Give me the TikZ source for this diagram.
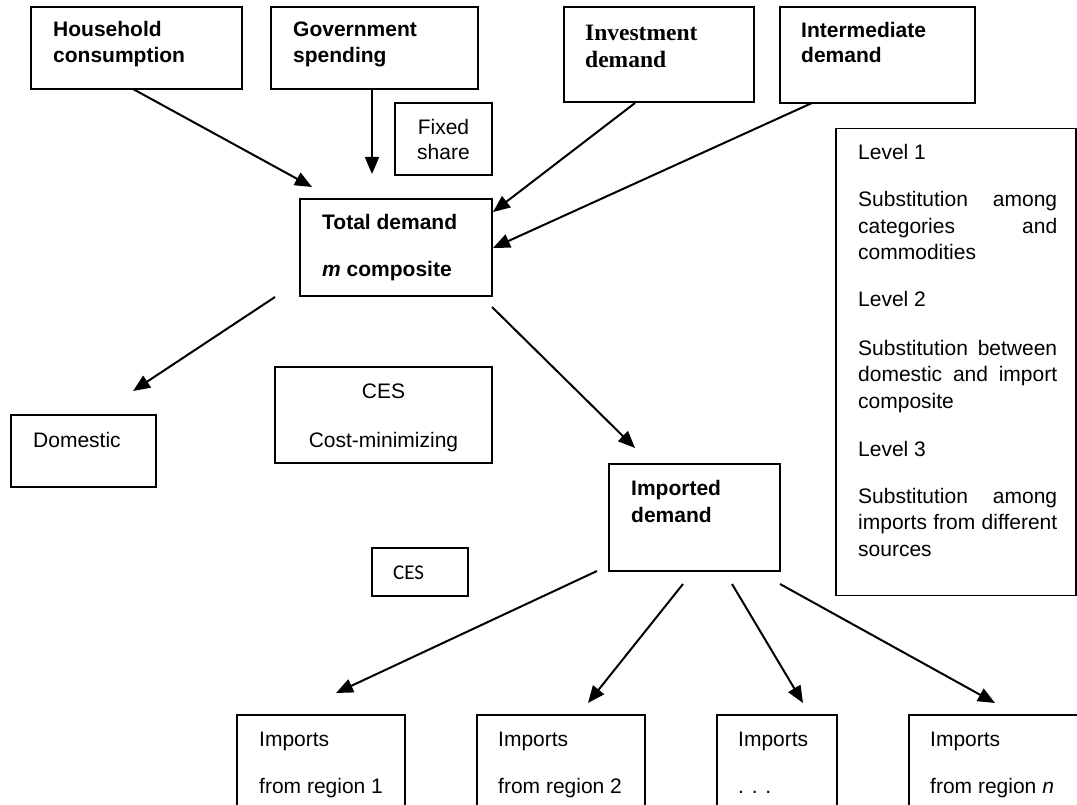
\documentclass[tikz,border=0pt]{standalone}
\usepackage{fontspec}
\setmainfont{Liberation Sans}
\newfontfamily\timesface{Liberation Serif}
\newfontfamily\calibriface{Carlito}
\usetikzlibrary{arrows.meta}

\begin{document}
\begin{tikzpicture}[x=1pt,y=-1pt,
  box/.style={draw, line width=1.6pt, inner sep=0pt, outer sep=0pt},
  lbl/.style={anchor=base west, inner sep=0pt, font=\fontsize{21}{25}\selectfont},
  blbl/.style={anchor=base west, inner sep=0pt, font=\fontsize{21}{25}\selectfont\bfseries},
  tlbl/.style={anchor=base west, inner sep=0pt, font=\fontsize{23.5}{27}\selectfont\timesface\bfseries},
  clbl/.style={anchor=base, inner sep=0pt, font=\fontsize{21}{25}\selectfont},
  flow/.style={line width=2pt, -{Triangle[length=17pt,width=14pt]}},
]
\useasboundingbox (0,0) rectangle (1077,805);
\clip (0,0) rectangle (1077,805);
\fill[white] (0,0) rectangle (1077,805);

% demand categories
\node[box, minimum width=211pt, minimum height=82pt] (hh)  at (136.5,48) {};
\node[box, minimum width=207pt, minimum height=82pt] (gov) at (374.5,48) {};
\node[box, minimum width=190pt, minimum height=95pt] (inv) at (659,54.5) {};
\node[box, minimum width=195pt, minimum height=96pt] (int) at (877.5,55) {};
\node[box, minimum width=97pt,  minimum height=72pt] (fix) at (443.5,139) {};

\node[blbl] (hh1) at (53,37) {Household};
\node[blbl] (hh2) at (53,63) {consumption};
\node[blbl] (gov1) at (293,37) {Government};
\node[blbl] (gov2) at (293,63) {spending};
\node[tlbl] (inv1) at (585,41) {Investment};
\node[tlbl] (inv2) at (585,68) {demand};
\node[blbl] (int1) at (801,38) {Intermediate};
\node[blbl] (int2) at (801,63) {demand};
\node[clbl] (fix1) at (443.5,135) {Fixed};
\node[clbl] (fix2) at (443.5,160) {share};

% total demand and level 2
\node[box, minimum width=192pt, minimum height=97pt] (td)   at (396,247.5) {};
\node[box, minimum width=145pt, minimum height=72pt] (dom)  at (83.5,451) {};
\node[box, minimum width=217pt, minimum height=96pt] (ces)  at (383.5,415) {};
\node[box, minimum width=171pt, minimum height=107pt] (impd) at (694.5,517.5) {};
\node[box, minimum width=96pt,  minimum height=48pt] (ces2) at (420,572) {};

\node[blbl] (td1) at (322,230) {Total demand};
\node[blbl] (td2) at (322,277) {\textit{m} composite};
\node[lbl] (dom1) at (33,447) {Domestic};
\node[clbl] (ces1a) at (383.5,398) {CES};
\node[clbl] (ces1b) at (383.5,447) {Cost-minimizing};
\node[blbl] (impd1) at (631,495) {Imported};
\node[blbl] (impd2) at (631,522) {demand};
\node[anchor=base west, inner sep=0pt, font=\fontsize{21}{25}\selectfont\calibriface] (ces2a) at (393,579) {CES};

% import sources
\node[box, minimum width=168pt, minimum height=100pt] (im1) at (321,765) {};
\node[box, minimum width=168pt, minimum height=100pt] (im2) at (561,765) {};
\node[box, minimum width=120pt, minimum height=100pt] (im3) at (777,765) {};
\node[box, minimum width=171pt, minimum height=100pt] (im4) at (994.5,765) {};

\node[lbl] (im1a) at (259,746) {Imports};
\node[lbl] (im1b) at (259,793) {from region 1};
\node[lbl] (im2a) at (498,746) {Imports};
\node[lbl] (im2b) at (498,793) {from region 2};
\node[lbl] (im3a) at (738,746) {Imports};
\node[lbl] (im3b) at (738,793) {. . .};
\node[lbl] (im4a) at (930,746) {Imports};
\node[lbl] (im4b) at (930,793) {from region \textit{n}};

% legend of nesting levels
\node[box, minimum width=240pt, minimum height=467pt] (lev) at (956,362) {};
\def\jline#1{\makebox[199pt][s]{#1}}
\node[lbl] (lv1)  at (858,160) {Level 1};
\node[lbl] (lv2)  at (858,207) {\jline{Substitution among}};
\node[lbl] (lv3)  at (858,233.5) {\jline{categories and}};
\node[lbl] (lv4)  at (858,260) {commodities};
\node[lbl] (lv5)  at (858,307) {Level 2};
\node[lbl] (lv6)  at (858,355) {\jline{Substitution between}};
\node[lbl] (lv7)  at (858,381.5) {\jline{domestic and import}};
\node[lbl] (lv8)  at (858,408) {composite};
\node[lbl] (lv9)  at (858,456) {Level 3};
\node[lbl] (lv10) at (858,503) {\jline{Substitution among}};
\node[lbl] (lv11) at (858,529.5) {\jline{imports from different}};
\node[lbl] (lv12) at (858,556) {sources};

% arrow end points
\coordinate (hhS)  at (133,89);
\coordinate (tdA)  at (312,187);
\coordinate (govS) at (372,89);
\coordinate (tdB)  at (372,174);
\coordinate (invS) at (635,103);
\coordinate (tdC)  at (493,212);
\coordinate (intS) at (812,103);
\coordinate (tdD)  at (493,248);
\coordinate (tdE)  at (275,297);
\coordinate (domN) at (133,391);
\coordinate (tdF)  at (492,307);
\coordinate (impN) at (635,448);
\coordinate (idA)  at (597,571);
\coordinate (im1N) at (336,693);
\coordinate (idB)  at (683,584);
\coordinate (im2N) at (588,703);
\coordinate (idC)  at (732,584);
\coordinate (im3N) at (803,703);
\coordinate (idD)  at (780,584);
\coordinate (im4N) at (995,703);

\draw[flow] (hhS) -- (tdA);
\draw[flow] (govS) -- (tdB);
\draw[flow] (invS) -- (tdC);
\draw[flow] (intS) -- (tdD);
\draw[flow] (tdE) -- (domN);
\draw[flow] (tdF) -- (impN);
\draw[flow] (idA) -- (im1N);
\draw[flow] (idB) -- (im2N);
\draw[flow] (idC) -- (im3N);
\draw[flow] (idD) -- (im4N);
\end{tikzpicture}
\end{document}
